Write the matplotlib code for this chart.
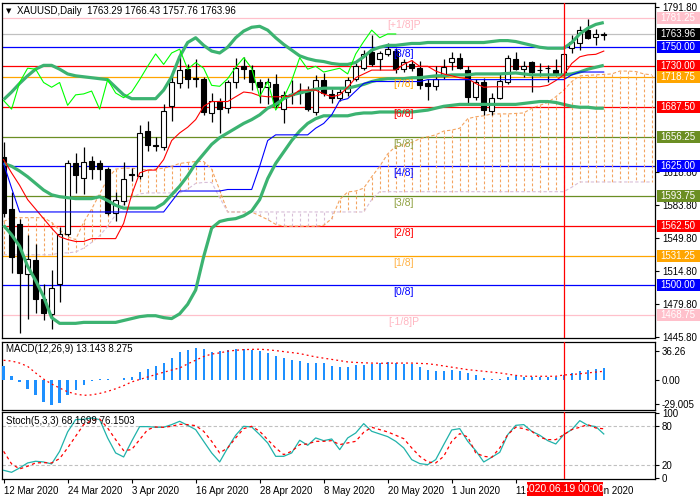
import numpy as np
import matplotlib
matplotlib.use("Agg")
import matplotlib.pyplot as plt
from matplotlib.patches import Rectangle

plt.rcParams['font.family'] = ['Liberation Sans', 'DejaVu Sans']

# ---------------- data ----------------
opens = [1635, 1580, 1564, 1512, 1527, 1486, 1470, 1501, 1554, 1628,
         1613, 1631, 1628, 1622, 1576, 1589, 1616, 1615, 1662, 1647,
         1645, 1688, 1712, 1727, 1718, 1717, 1681, 1694, 1686, 1713,
         1730, 1726, 1713, 1708, 1711, 1685, 1700, 1702, 1704, 1682,
         1716, 1701, 1697, 1703, 1717, 1728, 1745, 1738, 1743, 1746,
         1727, 1732, 1728, 1712, 1709, 1720, 1734, 1739, 1726, 1698,
         1714, 1683, 1697, 1713, 1738, 1727, 1734, 1726, 1728, 1726,
         1721, 1749, 1754, 1768, 1760.5, 1763.29]
highs = [1651, 1598, 1570, 1553, 1543, 1501, 1516, 1561, 1632, 1639,
         1645, 1636, 1632, 1624, 1598, 1630, 1623, 1668, 1673, 1656,
         1690, 1723, 1746, 1732, 1738, 1719, 1702, 1697, 1716, 1739,
         1740, 1731, 1717, 1718, 1722, 1704, 1716, 1712, 1709, 1721,
         1723, 1706, 1706, 1719, 1733, 1747, 1763, 1746, 1754, 1749,
         1738, 1737, 1736, 1717, 1730, 1738, 1745, 1744, 1730, 1717,
         1718, 1702, 1723, 1742, 1745, 1736, 1736, 1733, 1731, 1738,
         1744, 1763, 1772, 1780, 1769, 1766.43]
lows = [1572, 1513, 1450, 1465, 1471, 1464, 1454, 1482, 1552, 1597,
        1596, 1612, 1611, 1574, 1567, 1584, 1610, 1612, 1641, 1641,
        1642, 1673, 1707, 1707, 1708, 1679, 1671, 1660, 1681, 1707,
        1717, 1705, 1691, 1690, 1686, 1670, 1690, 1690, 1683, 1679,
        1699, 1691, 1694, 1699, 1715, 1726, 1730, 1726, 1741, 1723,
        1724, 1725, 1706, 1695, 1705, 1717, 1726, 1727, 1689, 1695,
        1679, 1679, 1696, 1711, 1726, 1719, 1703, 1720, 1713, 1720,
        1719, 1744, 1747, 1759, 1752, 1757.76]
closes = [1576, 1530, 1513, 1528, 1486, 1471, 1497, 1554, 1628, 1616,
          1629, 1622, 1622, 1576, 1590, 1612, 1617, 1660, 1647, 1646,
          1683, 1713, 1726, 1717, 1717, 1682, 1694, 1685, 1713, 1728,
          1727, 1713, 1708, 1713, 1689, 1700, 1701, 1704, 1685, 1716,
          1702, 1697, 1703, 1716, 1730, 1743, 1732, 1744, 1748, 1727,
          1734, 1728, 1710, 1709, 1717, 1729, 1739, 1728, 1698, 1714,
          1684, 1697, 1715, 1739, 1727, 1730, 1724, 1726, 1728, 1722,
          1743, 1756, 1768, 1760, 1764, 1763.96]

bb_upper = [1695, 1703, 1712, 1720, 1727, 1731, 1731, 1727, 1722, 1720,
            1719, 1718, 1717, 1716, 1708, 1700, 1696, 1696, 1696, 1696,
            1705, 1719, 1740, 1755, 1760, 1752, 1746, 1744, 1750, 1760,
            1767, 1771, 1772, 1768, 1760, 1753, 1747, 1741, 1738, 1736,
            1735, 1733, 1732, 1732, 1734, 1740, 1747, 1750, 1752, 1752,
            1753, 1754, 1754, 1755, 1755, 1755, 1755, 1755, 1755, 1755,
            1755, 1756, 1757, 1757, 1756, 1754, 1752, 1750, 1749, 1749,
            1749, 1755, 1764, 1770, 1774, 1776]
bb_middle = [1628, 1625, 1620, 1614, 1607, 1600, 1595, 1593, 1592, 1591,
             1591, 1591, 1593, 1589, 1584, 1581, 1581, 1581, 1581, 1581,
             1586, 1595, 1604, 1615, 1628, 1638, 1648, 1655, 1660, 1665,
             1670, 1674, 1679, 1686, 1690, 1696, 1700, 1702, 1704, 1706,
             1707, 1707, 1707, 1707, 1709, 1711, 1714, 1716, 1717, 1717,
             1717, 1718, 1718, 1719, 1720, 1720, 1721, 1721, 1721, 1722,
             1722, 1722, 1722, 1722.5, 1723, 1722, 1721, 1721, 1721, 1721,
             1721, 1722, 1724, 1727, 1729, 1731]
bb_lower = [1563, 1553, 1541, 1520, 1505, 1488, 1466, 1460, 1460, 1460,
            1461, 1461, 1461, 1461, 1461, 1463, 1465, 1467, 1468, 1468,
            1466, 1465, 1470, 1480, 1495, 1530, 1560, 1567, 1569, 1570,
            1573, 1578, 1590, 1612, 1628, 1640, 1652, 1662, 1670, 1675,
            1678, 1678, 1678, 1678, 1680, 1681, 1681, 1682, 1682, 1682,
            1682, 1682, 1683, 1684, 1686, 1688, 1689, 1690, 1690, 1690,
            1690, 1690, 1690, 1690, 1690, 1691, 1692, 1693, 1693, 1692,
            1690, 1688, 1687, 1687, 1686, 1686]

tenkan = [1632, 1618, 1605, 1590, 1580, 1570, 1560, 1551, 1548, 1546,
          1546, 1549, 1549, 1549, 1549, 1565, 1595, 1618, 1621, 1621,
          1632, 1652, 1660, 1666, 1674, 1688, 1693, 1693, 1693, 1698,
          1703, 1702, 1699, 1698, 1698, 1698, 1699, 1705, 1705, 1705,
          1701, 1698, 1700, 1708, 1718, 1722, 1726, 1726, 1726, 1726,
          1732, 1736, 1730, 1730, 1725, 1722, 1720, 1718, 1717, 1712,
          1708, 1708.5, 1708.5, 1708.5, 1708.5, 1708.5, 1708.5, 1708.5, 1710, 1715,
          1721, 1733, 1740, 1742, 1742.6, 1746]
kijun = [1628, 1602, 1577, 1577, 1577, 1577, 1577, 1577, 1577, 1577,
         1577, 1577, 1577, 1577, 1577, 1577, 1577, 1577, 1577, 1577,
         1577, 1588, 1599, 1599, 1599, 1599, 1599, 1599, 1600.6, 1600.6,
         1600.6, 1600.6, 1625, 1652, 1658, 1658, 1658, 1658, 1658, 1665,
         1670, 1679, 1694, 1696, 1704, 1712, 1714, 1714, 1714, 1714,
         1714, 1714, 1714, 1716, 1716, 1716, 1716, 1716, 1716, 1716,
         1716, 1716, 1716, 1716, 1716, 1716, 1716, 1716, 1716, 1716,
         1716, 1721, 1724, 1724, 1724, 1724]
senkou_a = [1567, 1571, 1571, 1571, 1571, 1571, 1566, 1558, 1551, 1548,
            1566, 1580, 1596, 1612, 1622, 1623, 1623, 1622, 1621, 1622,
            1623, 1625, 1628, 1629, 1630, 1630, 1622, 1600, 1577, 1577,
            1577, 1577, 1573, 1569, 1564, 1562, 1562, 1562, 1562, 1562,
            1563, 1570, 1590, 1598, 1599, 1602, 1614, 1625, 1638, 1646,
            1648, 1650, 1654, 1656, 1658, 1662, 1663, 1665, 1675, 1677,
            1678, 1680, 1680, 1680, 1680.5, 1681, 1686, 1689, 1692, 1698,
            1705, 1714, 1720, 1720.5, 1721, 1721.5, 1722, 1725, 1725, 1724.5,
            1722, 1721]
senkou_b = [1532, 1532, 1532, 1532, 1532, 1532, 1532, 1534, 1534, 1535,
            1539, 1545, 1552, 1562, 1574, 1585, 1592, 1596, 1597, 1597,
            1597, 1597, 1597, 1601, 1607, 1608, 1608, 1592, 1577, 1577,
            1577, 1577, 1577, 1577, 1577, 1577, 1577, 1577, 1577, 1577,
            1577, 1577, 1577, 1577, 1577, 1577, 1590, 1598.3, 1598.3, 1598.3,
            1598.3, 1598.3, 1598.3, 1598.3, 1598.3, 1598.3, 1598.3, 1598.3, 1598.3, 1598.3,
            1598.3, 1598.3, 1598.3, 1598.3, 1598.3, 1598.3, 1598.3, 1598.3, 1598.3, 1598.3,
            1598.3, 1603, 1608.5, 1608.5, 1608.5, 1608.5, 1608.5, 1608.5, 1608.5, 1608.5,
            1608.5, 1608.5]

macd_hist = [17.1, 5.7, -2.4, -10.2, -18.3, -26.9, -30.5, -28.1, -17.5, -11.4,
             -5.3, -0.5, 1.6, 1.2, 0.4, 2.8, 4.5, 9.8, 14.2, 17.1,
             21.2, 27.3, 34.2, 37.0, 39.5, 38.3, 34.6, 36.2, 37.4, 38.3,
             38.3, 37.4, 35.4, 33.0, 30.1, 27.3, 25.2, 23.2, 21.2, 21.2,
             20.8, 17.1, 16.7, 16.7, 18.3, 19.1, 19.9, 21.6, 22.0, 20.8,
             19.9, 19.9, 16.3, 12.6, 11.0, 11.8, 12.6, 11.8, 8.5, 6.9,
             2.8, 1.2, 1.2, 3.7, 5.7, 4.5, 4.5, 4.5, 4.5, 4.1,
             6.1, 9.4, 11.0, 12.6, 13.4, 15.1]
macd_signal = [24.4, 23.5, 21.0, 17.0, 9.0, 1.5, -4.5, -9.4, -14.0, -16.7,
               -18.3, -17.8, -16.0, -13.5, -10.3, -6.5, -2.0, 1.0, 4.0, 7.0,
               9.8, 12.5, 15.0, 20.0, 24.5, 29.0, 32.0, 33.4, 35.5, 36.6,
               37.4, 37.7, 37.9, 37.2, 36.2, 35.0, 33.8, 32.6, 30.5, 28.5,
               27.0, 25.5, 24.0, 22.4, 21.8, 21.3, 21.0, 20.8, 20.8, 21.0,
               21.0, 21.0, 20.6, 20.2, 19.0, 17.5, 16.0, 14.5, 13.0, 12.0,
               11.0, 10.0, 9.0, 7.5, 6.0, 5.0, 4.9, 4.9, 4.9, 4.9,
               6.5, 7.0, 8.0, 9.0, 10.0, 11.0]
stoch_k = [12.3, 9.2, 15.9, 23.6, 26.2, 25.1, 22.1, 41.5, 71.3, 90.3,
           90.8, 92.8, 90.3, 62.1, 39.0, 32.8, 56.9, 79.5, 79.5, 78.5,
           78.5, 82.6, 87.7, 81.5, 74.9, 56.9, 39.0, 25.1, 46.7, 66.2,
           80.0, 79.0, 67.2, 54.4, 33.8, 33.8, 39.0, 58.5, 50.8, 62.1,
           57.9, 60.5, 44.1, 62.1, 69.7, 84.1, 72.3, 68.2, 64.1, 56.9,
           46.7, 28.7, 22.6, 21.0, 28.7, 51.8, 74.4, 76.4, 56.9, 42.6,
           25.1, 32.3, 40.0, 67.2, 81.5, 82.6, 72.3, 66.2, 57.9, 52.8,
           67.2, 74.9, 88.7, 81.5, 79.5, 68.17]
stoch_d = [41.5, 22.1, 14.4, 18.5, 23.6, 24.1, 23.6, 30.3, 46.7, 64.6,
           82.6, 88.7, 91.3, 77.4, 59.5, 42.6, 44.1, 59.5, 74.9, 79.0,
           78.5, 80.0, 83.1, 82.6, 81.0, 72.3, 56.9, 39.0, 46.7, 62.1,
           76.4, 80.0, 72.3, 59.5, 46.7, 36.4, 41.5, 51.8, 52.8, 56.9,
           56.9, 57.9, 51.8, 54.4, 56.9, 70.8, 78.5, 74.9, 71.3, 66.2,
           61.0, 46.7, 33.8, 25.1, 23.6, 33.8, 56.9, 68.7, 63.6, 39.0,
           33.8, 32.3, 46.7, 67.2, 78.5, 76.4, 72.3, 63.1, 59.5, 59.5,
           67.2, 74.9, 78.5, 82.6, 77.4, 76.15]

date_ticks = [0, 8, 16, 24, 32, 40, 48, 56, 64, 72]
date_labels = ['12 Mar 2020', '24 Mar 2020', '3 Apr 2020', '16 Apr 2020',
               '28 Apr 2020', '8 May 2020', '20 May 2020', '1 Jun 2020',
               '11 Jun 2020', '23 Jun 2020']

murrey_levels = [1781.25, 1750.0, 1718.75, 1687.5, 1656.25, 1625.0,
                 1593.75, 1562.5, 1531.25, 1500.0, 1468.75]
murrey_names = ['[+1/8]P', '[8/8]', '[7/8]', '[6/8]', '[5/8]', '[4/8]',
                '[3/8]', '[2/8]', '[1/8]', '[0/8]', '[-1/8]P']
murrey_colors = ['#FFC0CB', '#0000FF', '#FFA500', '#FF0000', '#6B8E23', '#0000FF',
                 '#6B8E23', '#FF0000', '#FFA500', '#0000FF', '#FFC0CB']
murrey_text_colors = ['#FFB6C1', '#0000FF', '#FFA500', '#FF0000', '#8FA040', '#0000FF',
                      '#8FA040', '#FF0000', '#FFB347', '#0000FF', '#FFB6C1']
extra_level = 1730.0
bid_price = 1763.96
axis_ticks = [1791.80, 1618.80, 1583.80, 1549.80, 1514.80, 1479.80, 1445.80]
cross_bar = 70

# ---------------- layout ----------------
W, H = 700, 500
fig = plt.figure(figsize=(7, 5), dpi=100)
fig.patch.set_facecolor('white')


def rect(l, t, r, b):
    return [l / W, 1 - b / H, (r - l) / W, (b - t) / H]


ax = fig.add_axes(rect(2, 3, 655, 338))
axm = fig.add_axes(rect(2, 342, 655, 410))
axs = fig.add_axes(rect(2, 412, 655, 479))

XMIN, XMAX = -0.2, 81.4
for a in (ax, axm, axs):
    a.set_xlim(XMIN, XMAX)
    a.set_facecolor('white')
    for sp in a.spines.values():
        sp.set_color('black')
        sp.set_linewidth(0.9)
    a.axvline(cross_bar, color='#FF0000', lw=0.9, zorder=6)

ax.set_ylim(1444.6, 1796.5)
axm.set_ylim(-36.2, 46.7)
axs.set_ylim(-1.1, 102)

x = np.arange(len(closes))
xc = np.arange(len(senkou_a))

# Murrey lines and extra lines
for lvl, col in zip(murrey_levels, murrey_colors):
    ax.axhline(lvl, color=col, lw=0.9, zorder=1)
ax.axhline(extra_level, color='#FF0000', lw=0.9, zorder=1)
ax.axhline(bid_price, color='#C0C0C0', lw=0.9, zorder=1)

# Ichimoku cloud
sa = np.array(senkou_a)
sb = np.array(senkou_b)
for i in range(len(xc)):
    col = '#F4A460' if sa[i] >= sb[i] else '#D8BFD8'
    ax.plot([xc[i], xc[i]], [sa[i], sb[i]], color=col, lw=0.8,
            ls=(0, (2.5, 2)), zorder=1.5)
ax.plot(xc, sa, color='#F4A460', lw=0.8, ls=(0, (3, 2)), zorder=1.6)
ax.plot(xc, sb, color='#D8BFD8', lw=0.8, ls=(0, (3, 2)), zorder=1.6)

# Candles
o = np.array(opens); hgh = np.array(highs); lw_ = np.array(lows); c = np.array(closes)
ax.vlines(x, lw_, hgh, color='black', lw=0.9, zorder=3)
bottoms = np.minimum(o, c)
heights = np.maximum(np.abs(c - o), 0.6)
faces = ['white' if cc >= oo else 'black' for oo, cc in zip(o, c)]
ax.bar(x, heights, bottom=bottoms, width=0.58, color=faces, edgecolor='black',
       linewidth=0.8, zorder=3.5)

# Bollinger
for band in (bb_upper, bb_middle, bb_lower):
    ax.plot(x, band, color='#3CB371', lw=2.3, zorder=4, solid_capstyle='butt')

# Ichimoku lines
ax.plot(x, tenkan, color='#FF0000', lw=0.8, zorder=4.5)
ax.plot(x, kijun, color='#0000FF', lw=0.8, zorder=4.5)
chikou_x = x[:len(closes) - 26]
ax.plot(chikou_x, closes[26:], color='#00FF00', lw=0.8, zorder=4.5)

# Murrey labels
for lvl, name, tc in zip(murrey_levels, murrey_names, murrey_text_colors):
    ax.text(50, lvl - 7.4, name, color=tc, fontsize=7.5, ha='center', va='center', zorder=5)

# Right axis of main
ax.set_xticks([])
ax.yaxis.tick_right()
ax.set_yticks(axis_ticks)
ax.set_yticklabels(['%.2f' % v for v in axis_ticks])
ax.tick_params(axis='y', length=3, pad=2, labelsize=7, width=0.8, colors='black')

# price boxes
box_items = [(1781.25, '#FFC0CB'), (bid_price, '#000000'), (1750.0, '#0000FF'),
             (1730.0, '#FF0000'), (1718.75, '#FFA500'), (1687.5, '#FF0000'),
             (1656.25, '#6B8E23'), (1625.0, '#0000FF'), (1593.75, '#6B8E23'),
             (1562.5, '#FF0000'), (1531.25, '#FFA500'), (1500.0, '#0000FF'),
             (1468.75, '#FFC0CB')]
for price, col in box_items:
    yd = ax.transData.transform((0, price))[1]
    fig.patches.append(Rectangle((657 / W, (yd - 6) / H), 43 / W, 12 / H,
                                 transform=fig.transFigure, facecolor=col,
                                 edgecolor='none', zorder=5))
    fig.text(660 / W, yd / H, '%.2f' % price, color='white', fontsize=7,
             va='center', ha='left', zorder=6)

# MACD
axm.bar(x, macd_hist, width=0.28, color='#1E90FF', zorder=3)
axm.plot(x, macd_signal, color='#FF0000', lw=0.9, ls=(0, (1.5, 2.5)), zorder=4)
axm.set_xticks([])
axm.yaxis.tick_right()
axm.set_yticks([36.26, 0.0, -29.005])
axm.set_yticklabels(['36.26', '0.00', '-29.005'])
axm.tick_params(axis='y', length=3, pad=2, labelsize=7, width=0.8)

# Stoch
axs.axhline(80, color='#C0C0C0', lw=0.8, ls=(0, (3, 2)), zorder=1)
axs.axhline(20, color='#C0C0C0', lw=0.8, ls=(0, (3, 2)), zorder=1)
axs.plot(x, stoch_k, color='#20B2AA', lw=0.9, zorder=3)
axs.plot(x, stoch_d, color='#FF0000', lw=0.9, ls=(0, (2.5, 2.5)), zorder=3)
axs.yaxis.tick_right()
axs.set_yticks([100, 80, 20, 0])
axs.set_yticklabels(['100', '80', '20', '0'])
axs.tick_params(axis='y', length=3, pad=2, labelsize=7, width=0.8)
axs.set_xticks(date_ticks)
axs.set_xticklabels(date_labels, ha='left')
axs.tick_params(axis='x', length=3, pad=2, labelsize=7, width=0.8)

# crosshair date label
xd = axs.transData.transform((cross_bar, 0))[0]
fig.patches.append(Rectangle(((xd - 37) / W, 1 - 496 / H), 76 / W, 14 / H,
                             transform=fig.transFigure, facecolor='#FF0000',
                             edgecolor='none', zorder=5))
fig.text(xd / W, 1 - 489 / H, '2020.06.19 00:00', color='white', fontsize=7.5,
         ha='center', va='center', zorder=6)

# headers
fig.text(9 / W, 1 - 11 / H, '\u25BC', fontsize=5, ha='center', va='center',
         family='DejaVu Sans')
fig.text(17 / W, 1 - 11 / H, 'XAUUSD,Daily  1763.29 1766.43 1757.76 1763.96',
         fontsize=7, ha='left', va='center')
fig.text(6 / W, 1 - 349 / H, 'MACD(12,26,9) 13.143 8.275', fontsize=7,
         ha='left', va='center')
fig.text(6 / W, 1 - 421 / H, 'Stoch(5,3,3) 68.1699 76.1503', fontsize=7,
         ha='left', va='center')

fig.savefig('out.png', dpi=100)
